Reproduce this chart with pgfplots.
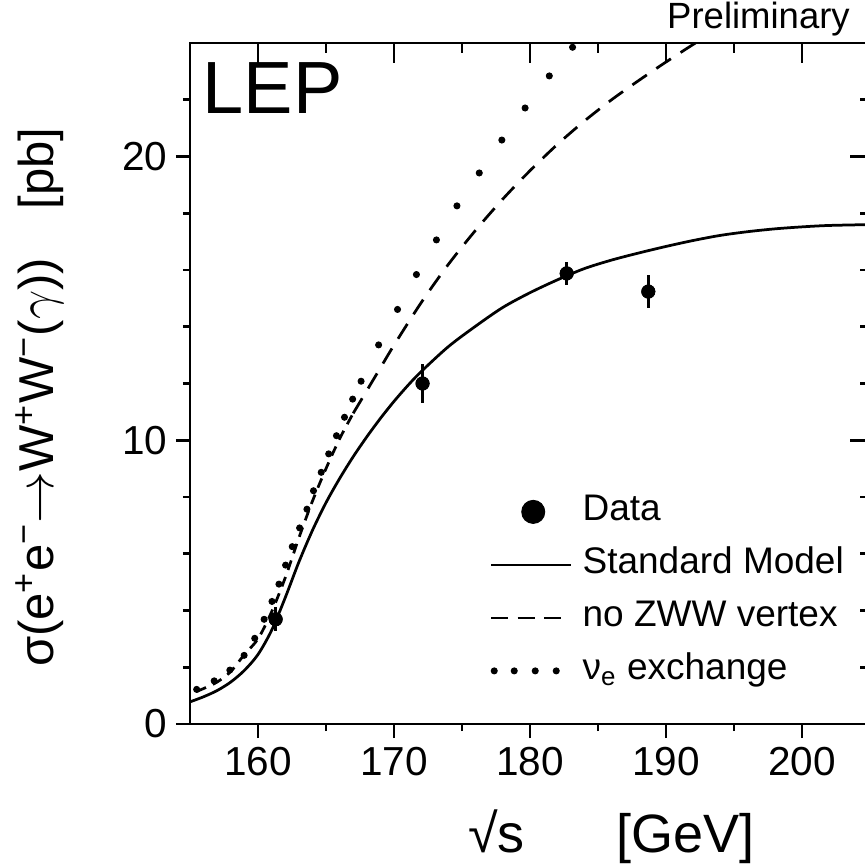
\documentclass[border=0pt]{standalone}
\usepackage{pgfplots}
\pgfplotsset{compat=1.18}
\usepackage{fontspec}
\setmainfont{Liberation Sans}
\newcommand\tfont{\fontsize{16.2}{19}\selectfont}
\newcommand\legfont{\fontsize{14.8}{18}\selectfont}
\newcommand\xlblfont{\fontsize{21.6}{26}\selectfont}
\newcommand\ylblfont{\fontsize{19.6}{24}\selectfont}
\begin{document}
\begin{tikzpicture}
\pgfplotsset{
  common/.style={
    scale only axis, width=272pt, height=272.4pt,
    xmin=155, xmax=205, ymin=0, ymax=24,
    axis line style={line width=1.1pt},
    every tick/.style={line width=1.1pt, black},
    xtick={160,170,180,190,200}, minor xtick={165,175,185,195},
    ytick={0,10,20}, minor ytick={2,4,6,8,12,14,16,18,22},
  }
}
\begin{axis}[common,
  xtick pos=bottom, ytick pos=left, tick align=outside,
  major tick length=5.6pt, minor tick length=2.8pt,
  tick label style={font=\tfont},
  /pgf/number format/assume math mode=true,
  clip mode=individual,
  xlabel={√s\hspace{1.7em}[GeV]},
  ylabel={σ(e\textsuperscript{+}e\textsuperscript{−}$\rightarrow$W\textsuperscript{+}W\textsuperscript{−}($\gamma$))\hspace{1em}[pb]},
  xlabel style={font=\xlblfont, at={(axis description cs:0.62,-0.166)}, anchor=center},
  ylabel style={font=\ylblfont, at={(axis description cs:-0.221,0.48)}, anchor=center},
  legend cell align=left,
  legend style={draw=none, fill=none, at={(rel axis cs:0.441,0.339)}, anchor=north west,
    font=\legfont, inner sep=0pt, outer sep=0pt, row sep=6.2pt,
    nodes={inner sep=0pt, text height=11pt, text depth=4pt}},
]
% Data (legend entry)
\addplot[black, only marks, mark=*, mark size=2.6pt,
  legend image code/.code={\fill[black] (16.8pt,0pt) circle (4.6pt); \path (0pt,0pt) (36pt,0pt);},
  error bars/.cd, y dir=both, y explicit, error mark=none,
  error bar style={line width=1.4pt}]
  coordinates {
  (161.3,3.69) +- (0,0.43)
  (172.1,12.0) +- (0,0.68)
  (182.7,15.88) +- (0,0.41)
  (188.7,15.24) +- (0,0.57)
  };
\addlegendentry{Data}
% Standard Model
\addplot[black, line width=1.1pt, smooth, tension=0.5,
  legend image code/.code={\draw[black, line width=1.1pt] (0pt,0pt) -- (32pt,0pt); \path (36pt,0pt);}]
  coordinates {
  (155,0.78)(156,0.96)(157,1.18)(158,1.48)(159,1.89)(160,2.45)(161,3.30)(162,4.45)
  (163,5.70)(164,6.82)(165,7.80)(166,8.65)(167,9.42)(168,10.12)(169,10.77)(170,11.37)
  (171,11.92)(172,12.42)(174,13.30)(176,14.02)(178,14.68)(180,15.20)(182,15.65)
  (184,16.05)(186,16.35)(188,16.60)(190,16.83)(192,17.04)(194,17.22)(196,17.35)
  (198,17.45)(200,17.52)(202,17.57)(205,17.60)
  };
\addlegendentry{Standard Model}
% no ZWW vertex (upper part)
\addplot[black, line width=1.1pt, smooth, tension=0.5, dash pattern=on 7pt off 4.6pt,
  legend image code/.code={\draw[black, line width=1.1pt, dash pattern=on 6.8pt off 3.8pt] (0pt,0pt) -- (28pt,0pt); \path (36pt,0pt);}]
  coordinates {
  (167,10.95)(168,11.75)(169,12.55)(170,13.35)(172,14.85)(174,16.20)(176,17.40)
  (178,18.50)(180,19.50)(182,20.42)(184,21.25)(186,22.00)(188,22.68)(190,23.33)
  (192,23.95)(192.2,24.0)
  };
\addlegendentry{no ZWW vertex}
% nu_e exchange (dots)
\addplot[black, only marks, mark=*, mark size=1.2pt,
  legend image code/.code={\foreach \xx in {1.2,9.2,17.6,26.0} {\fill[black] (\xx pt,0pt) circle (1.2pt);} \path (0pt,0pt) (36pt,0pt);}]
  coordinates {
  (155.49,1.22)(156.78,1.52)(157.93,1.90)(158.98,2.42)(159.76,3.02)(160.45,3.69)
  (161.03,4.32)(161.54,4.93)(162.03,5.60)(162.52,6.25)(163.06,6.91)(163.60,7.57)
  (164.08,8.22)(164.65,8.87)(165.20,9.52)(165.77,10.16)(166.36,10.81)(166.96,11.45)
  (167.58,12.08)(168.87,13.36)(170.26,14.61)(171.65,15.84)(173.12,17.06)(174.63,18.26)
  (176.27,19.42)(177.93,20.58)(179.64,21.71)(181.42,22.84)(183.13,23.85)
  };
\addlegendentry{ν\textsubscript{e} exchange}
% no ZWW vertex (lower part)
\addplot[black, line width=1.1pt, smooth, tension=0.5, dash pattern=on 4pt off 3pt, forget plot]
  coordinates {
  (155.5,1.15)(156,1.25)(157,1.48)(158,1.85)(159,2.45)(160,3.00)(161,3.95)(162,5.15)
  (163,6.55)(164,7.85)(165,9.00)(166,10.05)(167,10.95)
  };
% Data on top
\addplot[black, only marks, mark=*, mark size=2.6pt, forget plot]
  coordinates {(161.3,3.69)(172.1,12.0)(182.7,15.88)(188.7,15.24)};
\node[anchor=base west, inner sep=0pt, font=\fontsize{29.6}{34}\selectfont] at (rel axis cs:0.018,0.897) {LEP};
\node[anchor=base east, inner sep=0pt, font=\fontsize{14.6}{17}\selectfont] at (rel axis cs:0.971,1.022) {Preliminary};
\coordinate (bbsw) at (rel axis cs:0,0);
\coordinate (bbne) at (rel axis cs:1,1);
\end{axis}
\begin{axis}[common,
  xtick pos=top, ytick pos=right, tick align=inside,
  major tick length=8pt, minor tick length=4pt,
  xticklabels={}, yticklabels={}]
\end{axis}
\pgfresetboundingbox
\path[use as bounding box] ([xshift=-76pt,yshift=-56.4pt]bbsw) rectangle ([xshift=-2pt,yshift=17.2pt]bbne);
\end{tikzpicture}
\end{document}
